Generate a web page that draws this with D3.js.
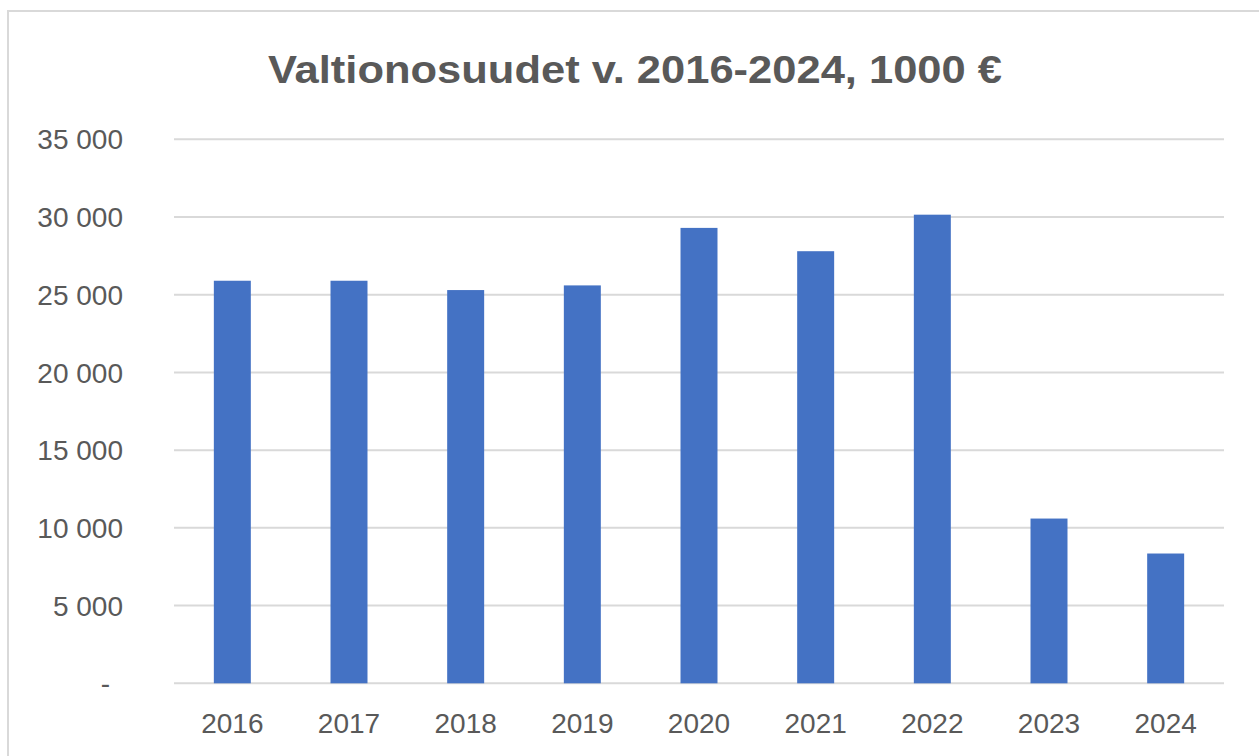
<!DOCTYPE html>
<html>
<head>
<meta charset="utf-8">
<script src="https://cdn.jsdelivr.net/npm/d3@7"></script>
<style>
  body { margin: 0; background: #fff; }
  svg { display: block; }
  .tick-label { font-family: "Liberation Sans", Arial, sans-serif; fill: #595959; }
</style>
</head>
<body>
<svg id="chart"></svg>
<script>
const years = ["2016", "2017", "2018", "2019", "2020", "2021", "2022", "2023", "2024"];
const values = [25900, 25900, 25300, 25600, 29300, 27800, 30150, 10600, 8350];
const yTicks = [0, 5000, 10000, 15000, 20000, 25000, 30000, 35000];
const titleText = "Valtionosuudet v. 2016-2024, 1000 €";

const width = 1259, height = 756;
const margin = {top: 139.3, right: 35, bottom: 72.7, left: 174};
const innerW = width - margin.left - margin.right;
const innerH = height - margin.top - margin.bottom;

const svg = d3.select("#chart")
    .attr("width", width)
    .attr("height", height);

// chart frame (runs off the right / bottom edge)
svg.append("rect")
    .attr("x", 8).attr("y", 11)
    .attr("width", 1300).attr("height", 800)
    .attr("fill", "#fff")
    .attr("stroke", "#d9d9d9")
    .attr("stroke-width", 2);

svg.append("text")
    .attr("x", 635)
    .attr("y", 83)
    .attr("text-anchor", "middle")
    .attr("textLength", 734)
    .attr("lengthAdjust", "spacingAndGlyphs")
    .style("font-family", "'Liberation Sans', Arial, sans-serif")
    .style("font-weight", "bold")
    .style("font-size", "39px")
    .style("fill", "#595959")
    .text(titleText);

const chart = svg.append("g")
    .attr("transform", `translate(${margin.left},${margin.top})`);

const x = d3.scaleBand()
    .domain(years)
    .range([0, innerW])
    .paddingInner(0.683)
    .paddingOuter(0.683 / 2);

const y = d3.scaleLinear()
    .domain([0, 35000])
    .range([innerH, 0]);

const fi = d3.formatLocale({decimal: ",", thousands: " ", grouping: [3], currency: ["", ""]});
const fmt = v => v === 0 ? "-" : fi.format(",")(v);

// gridlines
chart.append("g")
    .selectAll("line")
    .data(yTicks)
    .join("line")
    .attr("x1", 0)
    .attr("x2", innerW)
    .attr("y1", d => y(d))
    .attr("y2", d => y(d))
    .attr("stroke", "#d9d9d9")
    .attr("stroke-width", 2);

// y labels
chart.append("g")
    .selectAll("text")
    .data(yTicks)
    .join("text")
    .attr("class", "tick-label")
    .attr("x", d => d === 0 ? -64 : -51)
    .attr("y", d => y(d))
    .attr("dy", "0.36em")
    .attr("text-anchor", "end")
    .style("font-size", "28px")
    .text(fmt);

// bars
chart.append("g")
    .selectAll("rect")
    .data(values)
    .join("rect")
    .attr("x", (d, i) => x(years[i]))
    .attr("y", d => y(d))
    .attr("width", x.bandwidth())
    .attr("height", d => innerH - y(d))
    .attr("fill", "#4472c4");

// x labels
chart.append("g")
    .selectAll("text")
    .data(years)
    .join("text")
    .attr("class", "tick-label")
    .attr("x", d => x(d) + x.bandwidth() / 2)
    .attr("y", innerH + 50)
    .attr("text-anchor", "middle")
    .style("font-size", "28px")
    .text(d => d);
</script>
</body>
</html>
